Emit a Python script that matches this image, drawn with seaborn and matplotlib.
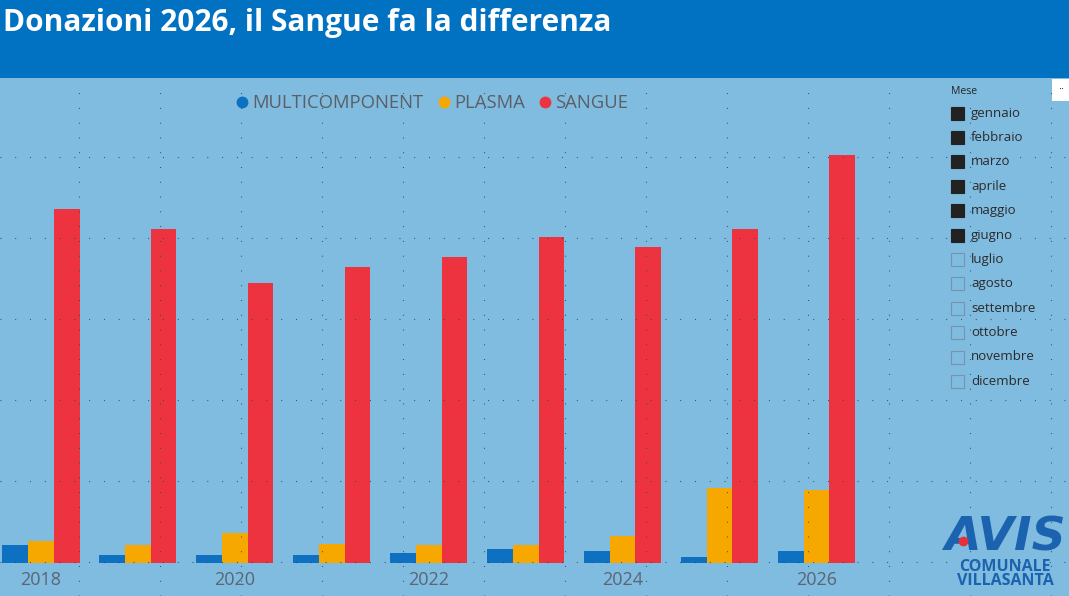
import pandas as pd
import numpy as np
import matplotlib.pyplot as plt
import seaborn as sns
from matplotlib.patches import Rectangle
from matplotlib.lines import Line2D

# ---- data (bar heights, arbitrary units) ----
anni = ['2018', '2019', '2020', '2021', '2022', '2023', '2024', '2025', '2026']
multicomponent = [18, 8, 8, 8, 10, 14, 12, 6, 12]
plasma = [22, 18, 30, 19, 18, 18, 27, 75, 73]
sangue = [354, 334, 280, 296, 306, 326, 316, 334, 408]
tipi = ['MULTICOMPONENT', 'PLASMA', 'SANGUE']
tick_labels = ['2018', '', '2020', '', '2022', '', '2024', '', '2026']
mesi = ['gennaio', 'febbraio', 'marzo', 'aprile', 'maggio', 'giugno',
        'luglio', 'agosto', 'settembre', 'ottobre', 'novembre', 'dicembre']
mesi_selezionati = ['gennaio', 'febbraio', 'marzo', 'aprile', 'maggio', 'giugno']

palette = {'MULTICOMPONENT': '#0E70C0', 'PLASMA': '#F6A800', 'SANGUE': '#EE3340'}
bg = '#80BBE0'
header = '#0172C2'

df = pd.DataFrame({'anno': anni, 'MULTICOMPONENT': multicomponent,
                   'PLASMA': plasma, 'SANGUE': sangue})
df_melt = df.melt(id_vars='anno', value_vars=tipi, var_name='tipo', value_name='donazioni')

sns.set_theme(style='white')
plt.rcParams['font.family'] = ['Open Sans', 'DejaVu Sans']

W, H = 1069, 596
fig = plt.figure(figsize=(W / 100, H / 100), dpi=100, facecolor=bg)


def fx(px):
    return px / W


def fy(py):
    return 1 - py / H


# header bar
fig.patches.append(Rectangle((0, fy(78)), 1, 78 / H, transform=fig.transFigure,
                             facecolor=header, edgecolor='none', zorder=0))
fig.text(fx(3), fy(23), 'Donazioni 2026, il Sangue fa la differenza', color='white',
         fontsize=21.5, fontweight='bold', va='center', ha='left')

# canvas snap grid (dotted), behind the visuals
for gx in range(79, W, 81):
    fig.add_artist(Line2D([fx(gx), fx(gx)], [0, fy(80)], transform=fig.transFigure,
                          color='#2a4862', lw=0.8, ls=(0, (0.8, 12.5)), zorder=0.5))
for gy in range(157, H, 81):
    fig.add_artist(Line2D([0, 1], [fy(gy), fy(gy)], transform=fig.transFigure,
                          color='#2a4862', lw=0.8, ls=(0, (0.8, 12.5)), zorder=0.5))

# bar chart
ax = fig.add_axes([0, fy(563), fx(897), (563 - 120) / H])
ax.set_facecolor('none')
sns.barplot(data=df_melt, x='anno', y='donazioni', hue='tipo', hue_order=tipi,
            palette=palette, width=0.8, saturation=1, legend=False, ax=ax,
            linewidth=0, edgecolor='none', zorder=2)
ax.set_xlim(-0.42, 8.83)
ax.set_ylim(0, 443)
ax.set_xlabel('')
ax.set_ylabel('')
ax.set_yticks([])
ax.set_xticks(range(len(anni)))
ax.set_xticklabels(tick_labels, fontsize=13, color='#5b6573')
ax.tick_params(axis='x', length=0, pad=6)
for s in ax.spines.values():
    s.set_visible(False)

# legend
handles = [Line2D([], [], marker='o', ls='', markersize=7.5, color=palette[t]) for t in tipi]
fig.legend(handles, tipi, loc='center', bbox_to_anchor=(fx(430), fy(103)), ncol=3,
           frameon=False, fontsize=13.3, handletextpad=0.0, columnspacing=0.55,
           handlelength=1.1, labelcolor='#5b5f66', borderaxespad=0)

# month slicer
fig.text(fx(951), fy(91), 'Mese', fontsize=7.5, color='#252525', va='center', ha='left')
for i, m in enumerate(mesi):
    cy = 113 + i * 24.4
    on = m in mesi_selezionati
    fig.patches.append(Rectangle((fx(951), fy(cy + 6.5)), fx(13), 13 / H,
                                 transform=fig.transFigure,
                                 facecolor='#222222' if on else 'none',
                                 edgecolor='#222222' if on else '#7894ac', lw=0.8, zorder=3))
    fig.text(fx(971), fy(cy), m, fontsize=9.5, color='#2b2b2b', va='center', ha='left')

# "more options" box
fig.patches.append(Rectangle((fx(1052), fy(101)), fx(17), 22 / H, transform=fig.transFigure,
                             facecolor='white', edgecolor='none', zorder=3))
fig.text(fx(1061), fy(90), '··', fontsize=8, color='#333333', ha='center', va='center', zorder=4)

# AVIS logo
logo = '#1B63AE'
fig.text(fx(1005), fy(538), 'AVIS', fontsize=34, fontweight='heavy', fontstyle='italic',
         color=logo, ha='center', va='center', family=['DejaVu Sans'])
fig.add_artist(Line2D([fx(963)], [fy(541)], transform=fig.transFigure, marker='o',
                      markersize=6, color='#E8303C', zorder=5))
fig.text(fx(1005), fy(567), 'COMUNALE', fontsize=11.5, fontweight='bold', color=logo,
         ha='center', va='center')
fig.text(fx(1005), fy(581), 'VILLASANTA', fontsize=11.5, fontweight='bold', color=logo,
         ha='center', va='center')

fig.savefig('out.png', dpi=100, facecolor=bg)
